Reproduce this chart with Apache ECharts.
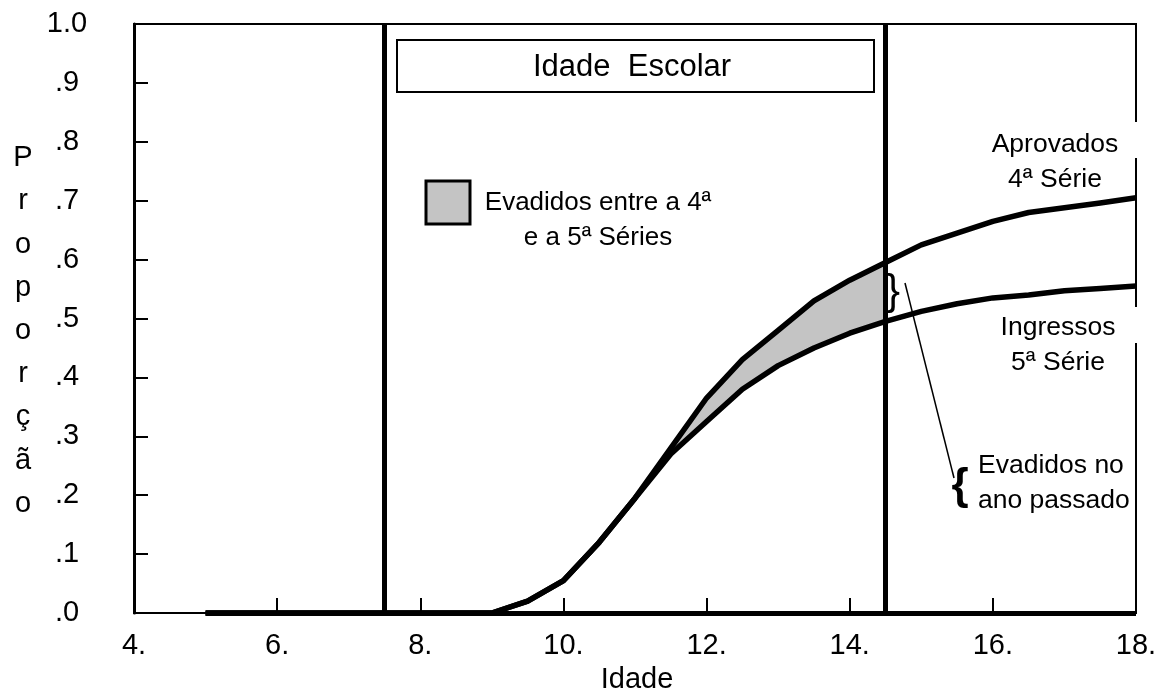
<!DOCTYPE html>
<html>
<head>
<meta charset="utf-8">
<title>Idade Escolar</title>
<script src="https://cdn.jsdelivr.net/npm/echarts@6/dist/echarts.min.js"></script>
<style>
html, body { margin: 0; padding: 0; background: #fff; }
#chart { width: 1162px; height: 695px; }
</style>
</head>
<body>
<div id="chart"></div>
<script>
// idade (anos) e proporções
var idades      = [5, 6, 7, 8, 9, 9.5, 10, 10.5, 11, 11.5, 12, 12.5, 13, 13.5, 14, 14.5, 15, 15.5, 16, 16.5, 17, 17.5, 18];
var aprovados4  = [0, 0, 0, 0, 0, 0.02, 0.055, 0.12, 0.195, 0.28, 0.365, 0.43, 0.48, 0.53, 0.565, 0.595, 0.625, 0.645, 0.665, 0.68, 0.688, 0.696, 0.705];
var ingressos5  = [0, 0, 0, 0, 0, 0.02, 0.055, 0.12, 0.195, 0.27, 0.325, 0.38, 0.42, 0.45, 0.475, 0.495, 0.512, 0.525, 0.535, 0.54, 0.547, 0.551, 0.555];

// limites da idade escolar e trecho sombreado (evadidos entre a 4ª e a 5ª)
var idadeEscolar = [7.5, 14.5];
var sombraIni = 11.5, sombraFim = 14.5;

var yLabels = ['.0', '.1', '.2', '.3', '.4', '.5', '.6', '.7', '.8', '.9', '1.0'];
var xLabels = { 4: '4.', 6: '6.', 8: '8.', 10: '10.', 12: '12.', 14: '14.', 16: '16.', 18: '18.' };

var FONT = "'Liberation Sans', Arial, sans-serif";

var chart = echarts.init(document.getElementById('chart'));

// faixa cinza entre as duas curvas
function desenhaFaixa(params, api) {
  var pts = [];
  idades.forEach(function (x, i) {
    if (x >= sombraIni && x <= sombraFim) pts.push(api.coord([x, aprovados4[i]]));
  });
  for (var i = idades.length - 1; i >= 0; i--) {
    if (idades[i] >= sombraIni && idades[i] <= sombraFim) pts.push(api.coord([idades[i], ingressos5[i]]));
  }
  return { type: 'polygon', shape: { points: pts }, style: { fill: '#c4c4c4', stroke: '#000', lineWidth: 1 } };
}

var option = {
  animation: false,
  backgroundColor: '#fff',
  grid: { left: 134, top: 24, right: 26, bottom: 82, show: true, borderColor: '#000', borderWidth: 2 },
  xAxis: {
    type: 'value', min: 4, max: 18, interval: 2,
    axisLine: { lineStyle: { color: '#000', width: 2 } },
    axisTick: { inside: true, length: 15, lineStyle: { color: '#000', width: 2 } },
    axisLabel: { margin: 18, color: '#000', fontSize: 29, fontFamily: FONT,
      formatter: function (v) { return xLabels[v] || ''; } },
    splitLine: { show: false }
  },
  yAxis: {
    type: 'value', min: 0, max: 1, interval: 0.1,
    axisLine: { show: true, lineStyle: { color: '#000', width: 3 } },
    axisTick: { show: true, inside: true, length: 14, lineStyle: { color: '#000', width: 2 } },
    axisLabel: { margin: 67, align: 'center', color: '#000', fontSize: 29, fontFamily: FONT,
      formatter: function (v) { return yLabels[Math.round(v * 10)]; } },
    splitLine: { show: false }
  },
  series: [
    {
      name: 'Evadidos entre a 4ª e a 5ª Séries', type: 'custom', silent: true, z: 1,
      data: [[sombraIni, 0]], renderItem: desenhaFaixa
    },
    {
      name: 'Ingressos 5ª Série', type: 'line', symbol: 'none', z: 3,
      data: idades.map(function (x, i) { return [x, ingressos5[i]]; }),
      lineStyle: { color: '#000', width: 5.5, join: 'round' }
    },
    {
      name: 'Aprovados 4ª Série', type: 'line', symbol: 'none', z: 3,
      data: idades.map(function (x, i) { return [x, aprovados4[i]]; }),
      lineStyle: { color: '#000', width: 5.5, join: 'round' },
      markLine: {
        silent: true, symbol: 'none', label: { show: false },
        lineStyle: { color: '#000', width: 5, type: 'solid' },
        data: [
          { xAxis: idadeEscolar[0] },
          { xAxis: idadeEscolar[1] },
          [{ coord: [idades[0], 0] }, { coord: [18, 0] }]
        ]
      }
    }
  ],
  graphic: [
    // caixa "Idade Escolar"
    { type: 'rect', z: 50, shape: { x: 397, y: 40, width: 477, height: 52 },
      style: { fill: '#fff', stroke: '#000', lineWidth: 2 } },
    { type: 'text', z: 51, style: { text: 'Idade  Escolar', x: 632, y: 67, align: 'center', verticalAlign: 'middle',
      font: '31px ' + FONT, fill: '#000' } },
    // legenda da área sombreada
    { type: 'rect', z: 50, shape: { x: 426, y: 181, width: 44, height: 43 },
      style: { fill: '#c4c4c4', stroke: '#000', lineWidth: 3 } },
    { type: 'text', z: 51, style: { text: 'Evadidos entre a 4ª\ne a 5ª Séries', x: 598, y: 220, align: 'center', verticalAlign: 'middle',
      lineHeight: 35, font: '26px ' + FONT, fill: '#000' } },
    // falhas na borda direita atrás dos rótulos
    { type: 'rect', z: 50, shape: { x: 1128, y: 122, width: 12, height: 36 }, style: { fill: '#fff' } },
    { type: 'rect', z: 50, shape: { x: 1128, y: 307, width: 12, height: 36 }, style: { fill: '#fff' } },
    { type: 'text', z: 51, style: { text: 'Aprovados\n4ª Série', x: 1055, y: 162, align: 'center', verticalAlign: 'middle',
      lineHeight: 35, font: '26.5px ' + FONT, fill: '#000' } },
    { type: 'text', z: 51, style: { text: 'Ingressos\n5ª Série', x: 1058, y: 345, align: 'center', verticalAlign: 'middle',
      lineHeight: 35, font: '26.5px ' + FONT, fill: '#000' } },
    // evadidos no ano passado
    { type: 'text', z: 51, style: { text: '}', x: 893, y: 292, align: 'center', verticalAlign: 'middle',
      font: '42px ' + FONT, fill: '#000' } },
    { type: 'line', z: 51, shape: { x1: 905, y1: 283, x2: 954, y2: 478 }, style: { stroke: '#000', lineWidth: 1.5 } },
    { type: 'text', z: 51, style: { text: '{', x: 960, y: 487, align: 'center', verticalAlign: 'middle',
      font: 'bold 44px ' + FONT, fill: '#000' } },
    { type: 'text', z: 51, style: { text: 'Evadidos no\nano passado', x: 978, y: 483, align: 'left', verticalAlign: 'middle',
      lineHeight: 35, font: '26.5px ' + FONT, fill: '#000' } },
    // títulos dos eixos
    { type: 'text', z: 51, style: { text: 'P\nr\no\np\no\nr\nç\nã\no', x: 23, y: 331, align: 'center', verticalAlign: 'middle',
      lineHeight: 43.2, font: '29px ' + FONT, fill: '#000' } },
    { type: 'text', z: 51, style: { text: 'Idade', x: 637, y: 680, align: 'center', verticalAlign: 'middle',
      font: '29px ' + FONT, fill: '#000' } }
  ]
};

chart.setOption(option);
</script>
</body>
</html>
